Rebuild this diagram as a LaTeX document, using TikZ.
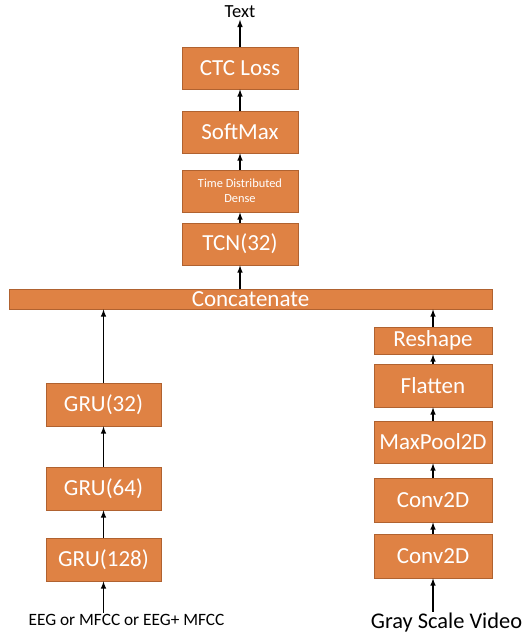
\documentclass[tikz,border=0pt]{standalone}
\usepackage{fontspec}
\setmainfont{Carlito}
\definecolor{boxfill}{RGB}{223,130,68}
\definecolor{boxline}{RGB}{176,98,48}

\begin{document}
\begin{tikzpicture}[x=1pt,y=-1pt,line width=1.5pt,
    layer/.style={draw=boxline,line width=0.8pt,fill=boxfill,text=white,
        font=\fontsize{23}{27}\selectfont,inner sep=0pt,
        minimum width=116pt,minimum height=42pt},
    lbl/.style={inner sep=1pt,text=black}]
            \useasboundingbox (0,0) rectangle (522,636);

            % output side
            \node[lbl,font=\fontsize{18.5}{20}\selectfont] (text) at (240,12) {Text};
            \node[layer] (ctc) at (240,68) {CTC Loss};
            \node[layer] (softmax) at (240,132) {SoftMax};
            \node[layer,font=\fontsize{12.4}{15}\selectfont,align=center] (tdd) at (240,191) {Time Distributed\\Dense};
            \node[layer] (tcn) at (240,244) {TCN(32)};
            \node[layer,minimum width=483pt,minimum height=20pt] (concat) at (250.5,299) {Concatenate};

            % audio / eeg branch
            \node[layer,minimum width=115pt,minimum height=43pt] (gru32) at (103.5,404.5) {GRU(32)};
            \node[layer,minimum width=115pt,minimum height=43pt] (gru64) at (103.5,488.5) {GRU(64)};
            \node[layer,minimum width=115pt,minimum height=43pt] (gru128) at (103.5,559.5) {GRU(128)};
            \node[lbl,font=\fontsize{17.3}{19}\selectfont] (eeg) at (126.5,620) {EEG or MFCC or EEG+ MFCC};

            % video branch
            \node[layer,minimum width=118pt,minimum height=27pt] (reshape) at (433,340.5) {Reshape};
            \node[layer,minimum width=118pt,minimum height=43pt] (flatten) at (433,385.5) {Flatten};
            \node[layer,minimum width=118pt] (maxpool) at (433,442) {MaxPool2D};
            \node[layer,minimum width=118pt,minimum height=44pt] (convb) at (433,500) {Conv2D};
            \node[layer,minimum width=118pt,minimum height=44pt] (conva) at (433,556) {Conv2D};
            \node[lbl,font=\fontsize{22.4}{25}\selectfont] (video) at (446.5,623) {Gray Scale Video};

            \draw[<-,>=latex] (text) -- (ctc);
            \draw[<-,>=latex] (ctc) -- (softmax);
            \draw[<-,>=latex] (softmax) -- (tdd);
            \draw[<-,>=latex] (tdd) -- (tcn);
            \draw[<-,>=latex] (tcn) -- (concat.north -| tcn.south);

            \draw[<-,>=latex] (concat.south -| gru32.north) -- (gru32);
            \draw[<-,>=latex] (gru32) -- (gru64);
            \draw[<-,>=latex] (gru64) -- (gru128);
            \draw[<-,>=latex] (gru128) -- (eeg.north -| gru128.south);

            \draw[<-,>=latex] (concat.south -| reshape.north) -- (reshape);
            \draw[<-,>=latex] (reshape) -- (flatten);
            \draw[<-,>=latex] (flatten) -- (maxpool);
            \draw[<-,>=latex] (maxpool) -- (convb);
            \draw[<-,>=latex] (convb) -- (conva);
            \draw[<-,>=latex] (conva) -- (video.north -| conva.south);
        \end{tikzpicture}
\end{document}
